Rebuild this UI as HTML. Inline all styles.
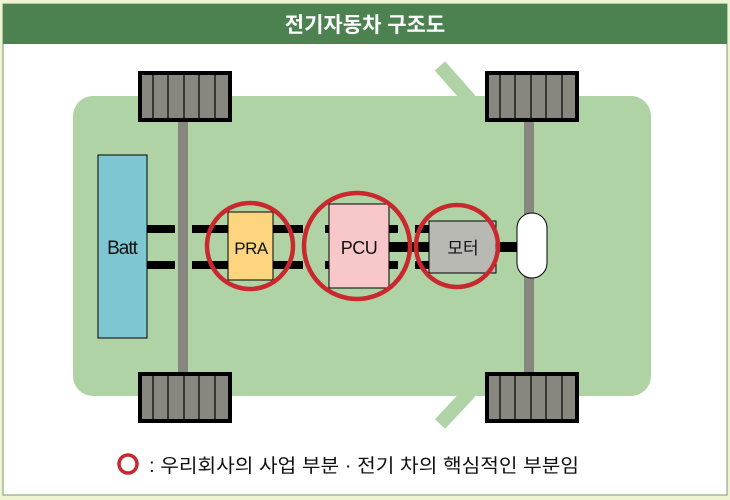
<!DOCTYPE html>
<html><head><meta charset="utf-8"><style>
html,body{margin:0;padding:0;background:#eef4cf;}
body{width:730px;height:500px;overflow:hidden;position:relative;font-family:"Liberation Sans","Noto Sans CJK KR","NanumGothic",sans-serif;}
</style></head><body>
<svg width="730" height="500" viewBox="0 0 730 500" xmlns="http://www.w3.org/2000/svg" style="position:absolute;left:0;top:0">
<rect x="3" y="4" width="724" height="491" fill="#fff" stroke="#7a9a70" stroke-width="1"/>
<rect x="3" y="4" width="724" height="40" fill="#4b8250"/>
<text x="365" y="32" fill="#fff" font-size="21" font-weight="bold" text-anchor="middle" font-family="Liberation Sans, Noto Sans CJK KR, sans-serif">전기자동차 구조도</text>
<line x1="440" y1="66" x2="470" y2="100" stroke="#b0d3a5" stroke-width="14"/>
<line x1="440" y1="424" x2="470" y2="392" stroke="#b0d3a5" stroke-width="14"/>
<rect x="73" y="96" width="578" height="300" rx="20" fill="#b0d3a5"/>
<rect x="178" y="120" width="10" height="254" fill="#878780"/>
<rect x="524" y="120" width="10" height="254" fill="#878780"/>
<g id="w">
<rect x="140" y="73" width="90" height="47" fill="#878780" stroke="#000" stroke-width="4"/>
<g stroke="#000" stroke-width="1.2"><line x1="153" y1="73" x2="153" y2="120"/><line x1="168" y1="73" x2="168" y2="120"/><line x1="184" y1="73" x2="184" y2="120"/><line x1="199" y1="73" x2="199" y2="120"/><line x1="215" y1="73" x2="215" y2="120"/></g>
</g>
<use href="#w" x="347" y="0"/>
<use href="#w" x="0" y="301"/>
<use href="#w" x="347" y="301"/>
<g fill="#000">
<rect x="147" y="225" width="28" height="8"/><rect x="147" y="261" width="28" height="8"/>
<rect x="192" y="225" width="36" height="8"/><rect x="192" y="261" width="36" height="8"/>
<rect x="273" y="225" width="30" height="8"/><rect x="273" y="261" width="30" height="8"/>
<rect x="325" y="225" width="6" height="8"/><rect x="325" y="261" width="6" height="8"/>
<rect x="389" y="225" width="9" height="8"/><rect x="389" y="261" width="9" height="8"/>
<rect x="389" y="242" width="130" height="10"/>
<rect x="415" y="225" width="15" height="8"/><rect x="415" y="261" width="15" height="8"/>
</g>
<rect x="98" y="155" width="49" height="183" fill="#7fc6d3" stroke="#000" stroke-width="1"/>
<text x="122" y="254" font-size="19" text-anchor="middle" fill="#111" letter-spacing="-1">Batt</text>
<rect x="228" y="212" width="45" height="68" fill="#fdd57e" stroke="#000" stroke-width="1"/>
<text x="251" y="254" font-size="17" text-anchor="middle" fill="#111" letter-spacing="-0.5">PRA</text>
<rect x="329" y="204" width="60" height="84" fill="#f7c7c9" stroke="#000" stroke-width="1"/>
<text x="359" y="254" font-size="18" text-anchor="middle" fill="#111" letter-spacing="-0.5">PCU</text>
<rect x="429" y="221" width="67" height="52" fill="#b9b9b4" stroke="#000" stroke-width="1"/>
<text x="463" y="254" font-size="17" text-anchor="middle" fill="#111">모터</text>
<rect x="517" y="213" width="30" height="65" rx="15" fill="#fff" stroke="#000" stroke-width="1"/>
<g fill="none" stroke="#c8282e" stroke-width="4.5">
<circle cx="250" cy="246" r="43"/>
<circle cx="357" cy="246" r="53"/>
<circle cx="457" cy="246" r="41"/>
</g>
<circle cx="128" cy="464" r="9" fill="none" stroke="#c8282e" stroke-width="3.5"/>
<text x="149" y="472" font-size="19" fill="#111" textLength="430" lengthAdjust="spacingAndGlyphs">: 우리회사의 사업 부분 · 전기 차의 핵심적인 부분임</text>
</svg>
</body></html>
